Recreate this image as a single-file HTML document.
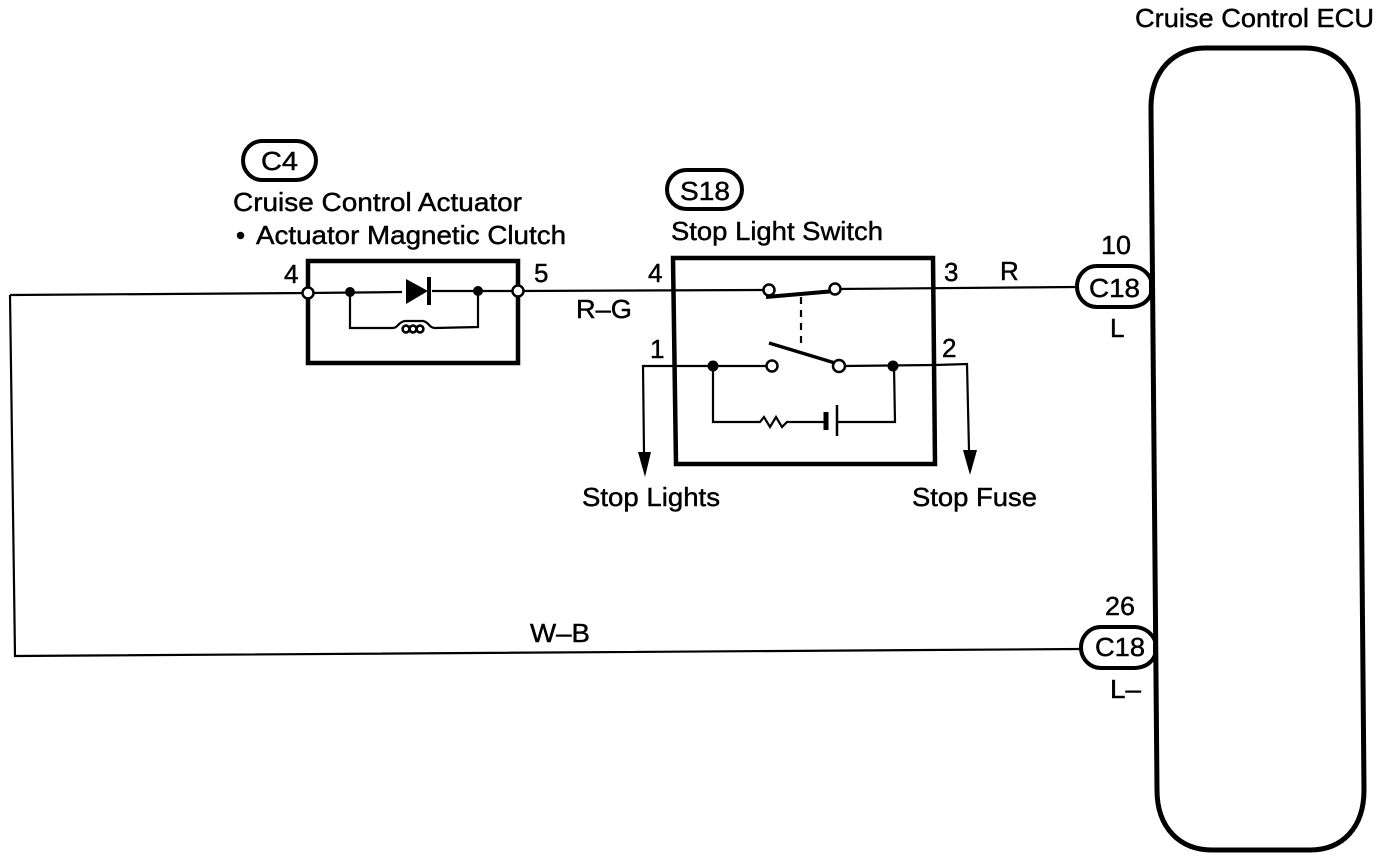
<!DOCTYPE html>
<html>
<head>
<meta charset="utf-8">
<style>
html,body{margin:0;padding:0;background:#fff;width:1392px;height:856px;overflow:hidden}
svg{display:block}
text{font-family:"Liberation Sans",Arial,sans-serif;font-size:26px;fill:#000;stroke:#000;stroke-width:0.45px}
</style>
</head>
<body>
<svg width="1392" height="856" viewBox="0 0 1392 856" xmlns="http://www.w3.org/2000/svg">
<rect width="1392" height="856" fill="#fff"/>

<!-- Wires -->
<g fill="none" stroke="#000" stroke-width="2.2">
<path d="M10 295 L308 293"/>
<path d="M10 295 L15 656 L1080 649"/>
<path d="M518 291 L769 290"/>
<path d="M835 289 L1076 287"/>
<path d="M644 452 L643 366 L768 366"/>
<path d="M844 366 L935 365 L967 364 L969 450"/>
<path d="M308 293 L402 292 M432 291 L518 291"/>
<path d="M350 292 L350 328 L393 328 C398 328 398 322 405 321 L423 321 C429 322 429 328 435 328 L478 327 L478 291"/>
<path d="M713 366 L713 422 L760 422 L764 417 L770 427 L776 417 L782 427 L787 422 L825 422"/>
<path d="M838 422 L895 422 L894 366"/>
<path d="M801 297 L801 343" stroke-dasharray="7 6"/>
<g stroke-width="2.6">
<circle cx="406" cy="329" r="3.4"/>
<circle cx="413" cy="329" r="3.4"/>
<circle cx="420" cy="329" r="3.4"/>
</g>
</g>

<!-- Boxes -->
<g fill="none" stroke="#000" stroke-width="4.5">
<path d="M308 261 L518 261 L518 363 L308 363 Z"/>
<path d="M673 258 L933 258 L935 464 L676 464 Z"/>
</g>

<!-- Diode -->
<path d="M406 279 L406 304 L428 291 Z" fill="#000"/>
<path d="M429 277 L429 305" stroke="#000" stroke-width="4"/>

<!-- Switch blades and battery -->
<g stroke="#000" fill="none">
<path d="M766 297 L835 291" stroke-width="4"/>
<path d="M769 343 L835 363" stroke-width="3.5"/>
<path d="M826 412 L826 430" stroke-width="5"/>
<path d="M837 405 L837 436" stroke-width="2.5"/>
</g>

<!-- Junction dots -->
<g fill="#000">
<circle cx="350" cy="292" r="5"/>
<circle cx="478" cy="291" r="5"/>
<circle cx="713" cy="366" r="5.5"/>
<circle cx="893" cy="366" r="5.5"/>
<path d="M638 452 L651 452 L645 477 Z"/>
<path d="M963 450 L977 450 L970 475 Z"/>
</g>

<!-- Open terminals -->
<g fill="#fff" stroke="#000" stroke-width="2.5">
<circle cx="308" cy="293" r="5.5"/>
<circle cx="518" cy="291" r="5.5"/>
<circle cx="769" cy="290" r="5.5"/>
<circle cx="835" cy="289" r="5.5"/>
<circle cx="772" cy="366" r="5.5"/>
<circle cx="839" cy="366" r="6"/>
</g>

<!-- Connector pills -->
<g fill="#fff" stroke="#000" stroke-width="4">
<rect x="243" y="141" width="73" height="39" rx="19.5"/>
<rect x="667" y="170" width="75" height="39" rx="19.5"/>
<path d="M1097 266 L1130 266 C1140 266 1148 272 1151 280 L1151 294 C1148 302 1140 307 1130 307 L1097 307 C1086 307 1077 298 1077 286.5 C1077 275 1086 266 1097 266 Z"/>
<path d="M1101 627 L1134 627 C1144 627 1152 633 1155 641 L1155 655 C1152 663 1144 668 1134 668 L1101 668 C1090 668 1081 659 1081 647.5 C1081 636 1090 627 1101 627 Z"/>
</g>

<!-- ECU -->
<path d="M1151 110 C1150 70 1175 48 1205 48 L1305 48 C1338 48 1358 72 1358 110 L1364 790 C1364 828 1342 850 1310 850 L1212 850 C1180 850 1157 828 1157 790 Z" fill="none" stroke="#000" stroke-width="5"/>

<!-- Labels -->
<text x="1135" y="27" textLength="239" lengthAdjust="spacingAndGlyphs">Cruise Control ECU</text>
<text x="261" y="170" textLength="37" lengthAdjust="spacingAndGlyphs">C4</text>
<text x="233" y="211" textLength="289" lengthAdjust="spacingAndGlyphs">Cruise Control Actuator</text>
<text x="236" y="244">•</text>
<text x="256" y="244" textLength="310" lengthAdjust="spacingAndGlyphs">Actuator Magnetic Clutch</text>
<text x="680" y="200" textLength="50" lengthAdjust="spacingAndGlyphs">S18</text>
<text x="671" y="240" textLength="212" lengthAdjust="spacingAndGlyphs">Stop Light Switch</text>
<text x="284" y="283">4</text>
<text x="534" y="282">5</text>
<text x="576" y="318" textLength="56" lengthAdjust="spacingAndGlyphs">R–G</text>
<text x="648" y="282">4</text>
<text x="650" y="358">1</text>
<text x="944" y="281">3</text>
<text x="942" y="357">2</text>
<text x="1000" y="280">R</text>
<text x="582" y="506" textLength="138" lengthAdjust="spacingAndGlyphs">Stop Lights</text>
<text x="912" y="506" textLength="125" lengthAdjust="spacingAndGlyphs">Stop Fuse</text>
<text x="1101" y="254" textLength="30" lengthAdjust="spacingAndGlyphs">10</text>
<text x="1089" y="297" textLength="51" lengthAdjust="spacingAndGlyphs">C18</text>
<text x="1110" y="337">L</text>
<text x="1105" y="615" textLength="30" lengthAdjust="spacingAndGlyphs">26</text>
<text x="1095" y="656" textLength="50" lengthAdjust="spacingAndGlyphs">C18</text>
<text x="1110" y="698" textLength="31" lengthAdjust="spacingAndGlyphs">L–</text>
<text x="530" y="642" textLength="60" lengthAdjust="spacingAndGlyphs">W–B</text>
</svg>
</body>
</html>
